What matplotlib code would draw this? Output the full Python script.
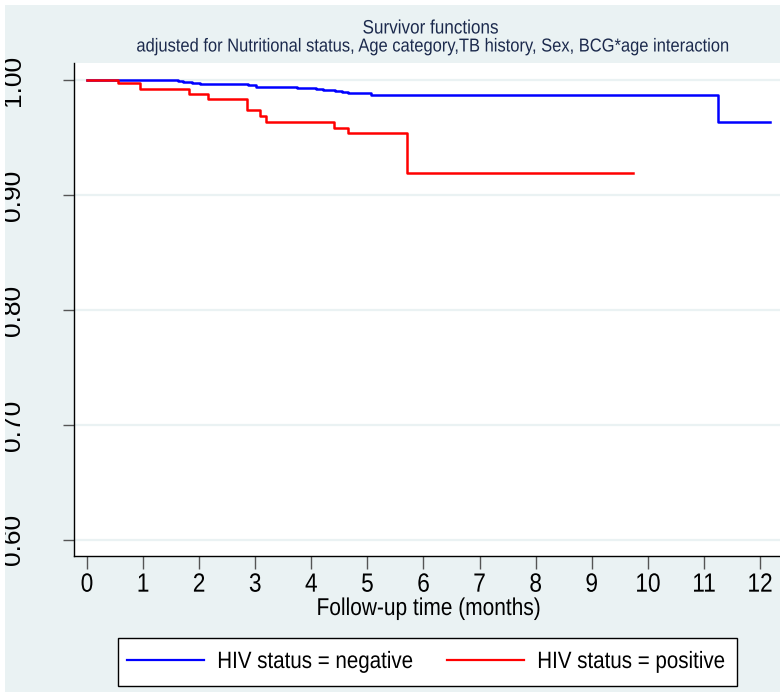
import matplotlib
matplotlib.use("Agg")
import matplotlib.pyplot as plt
from matplotlib.patches import Rectangle
from matplotlib.patheffects import AbstractPathEffect
from matplotlib.transforms import Affine2D

# survivor estimates (time in months)
neg_time = [0, 1.63, 1.71, 1.87, 2.01, 2.88, 3.02, 3.74, 4.09, 4.21, 4.42, 4.54, 4.65, 5.07, 11.25, 12.17]
neg_surv = [1.0, 0.9994, 0.9985, 0.9977, 0.9965, 0.9954, 0.9942, 0.9933, 0.9922, 0.9913, 0.9904,
            0.9893, 0.9884, 0.9872, 0.9637, 0.9637]

pos_time = [0, 0.55, 0.94, 1.82, 2.15, 2.86, 3.08, 3.19, 4.41, 4.65, 5.70, 9.74]
pos_surv = [1.0, 0.9971, 0.9922, 0.9876, 0.9832, 0.9739, 0.9690, 0.9637, 0.9585, 0.9537, 0.9189, 0.9189]

x_ticks = list(range(0, 13))
y_ticks = [0.60, 0.70, 0.80, 0.90, 1.00]
labels = ["HIV status = negative", "HIV status = positive"]


class Squeeze(AbstractPathEffect):
    """Narrow the glyphs horizontally (no condensed font installed)."""

    def __init__(self, sx=0.87, anchor=0.5):
        super().__init__()
        self.sx = sx
        self.anchor = anchor

    def draw_path(self, renderer, gc, tpath, affine, rgbFace=None):
        ext = tpath.get_extents()
        x0 = ext.x0 + self.anchor * ext.width
        pre = Affine2D().translate(-x0, 0).scale(self.sx, 1).translate(x0, 0)
        renderer.draw_path(gc, tpath, pre + affine, rgbFace)


bg = "#EAF2F3"
plt.rcParams["font.family"] = ["Liberation Sans", "DejaVu Sans"]

W, H = 780, 692
fig = plt.figure(figsize=(W / 100, H / 100), dpi=100, facecolor=bg)

# plot region in pixels: left 73.5, top 63, bottom 556, right ~783
ax = fig.add_axes([73.5 / W, (H - 556) / H, (783 - 73.5) / W, (556 - 63) / H])
ax.set_facecolor("white")

ax.step(neg_time, neg_surv, where="post", color="#0000FF", lw=1.8, label=labels[0], zorder=3)
ax.step(pos_time, pos_surv, where="post", color="#FF0000", lw=1.8, label=labels[1], zorder=3)

ax.set_xlim(-0.24, 12.41)
ax.set_ylim(0.586, 1.0148)
ax.set_xticks(x_ticks)
ax.set_yticks(y_ticks)
ax.set_yticklabels(["%.2f" % v for v in y_ticks], rotation=90, va="center")

ax.grid(axis="y", color=bg, lw=1.6, zorder=1)
ax.grid(axis="x", visible=False)
for side in ["top", "right"]:
    ax.spines[side].set_visible(False)
ax.spines["left"].set_linewidth(1.0)
ax.spines["bottom"].set_linewidth(1.0)

ax.tick_params(axis="x", length=9, width=1, color="#555555", labelsize=19, pad=3)
ax.tick_params(axis="y", length=8, width=1, color="#555555", labelsize=19, pad=27)
for lbl in ax.get_xticklabels():
    lbl.set_path_effects([Squeeze(0.86, 0.5)])

ax.set_xlabel("Follow-up time (months)", fontsize=17.5)
ax.xaxis.set_label_coords(0.5, -(609 - 556) / (556 - 63))
ax.xaxis.label.set_va("center")
ax.xaxis.label.set_path_effects([Squeeze(0.86, 0.5)])

title_color = "#1c2a4d"
t1 = fig.text(431 / W, 1 - 29 / H, "Survivor functions", ha="center", va="center",
              fontsize=14, color=title_color)
t2 = fig.text(432 / W, 1 - 47 / H,
              "adjusted for Nutritional status, Age category,TB history, Sex, BCG*age interaction",
              ha="center", va="center", fontsize=13.5, color=title_color)
for t in (t1, t2):
    t.set_path_effects([Squeeze(0.88, 0.5)])

# legend: entries laid out by fig.legend, frame drawn as the Stata-style box
leg_fs = 17
px_per_unit = leg_fs * 100 / 72
probe = fig.text(0, 0, labels[0], fontsize=leg_fs)
w1 = probe.get_window_extent(renderer=fig.canvas.get_renderer()).width
probe.remove()
handles, labs = ax.get_legend_handles_labels()
leg = fig.legend(handles, labs, loc="center left", ncol=2,
                 bbox_to_anchor=(127 / W, 1 - 662 / H), fontsize=leg_fs,
                 frameon=False, borderpad=0, borderaxespad=0,
                 handlelength=77 / px_per_unit, handletextpad=13 / px_per_unit,
                 columnspacing=(447 - 217 - w1) / px_per_unit)
for line in leg.get_lines():
    line.set_linewidth(1.6)
for t in leg.get_texts():
    t.set_path_effects([Squeeze(0.87, 0.0)])
fig.add_artist(Rectangle((118 / W, 1 - 686 / H), (737 - 118) / W, 48 / H,
                         transform=fig.transFigure, facecolor="white",
                         edgecolor="black", lw=1.0, zorder=0.5))

# thin white border on the left and top of the exported image
fig.add_artist(Rectangle((0, 0), 5 / W, 1, transform=fig.transFigure,
                         facecolor="white", edgecolor="none", zorder=10))
fig.add_artist(Rectangle((0, 1 - 5 / H), 1, 5 / H, transform=fig.transFigure,
                         facecolor="white", edgecolor="none", zorder=10))

fig.savefig("out.png", dpi=100, facecolor=bg)
